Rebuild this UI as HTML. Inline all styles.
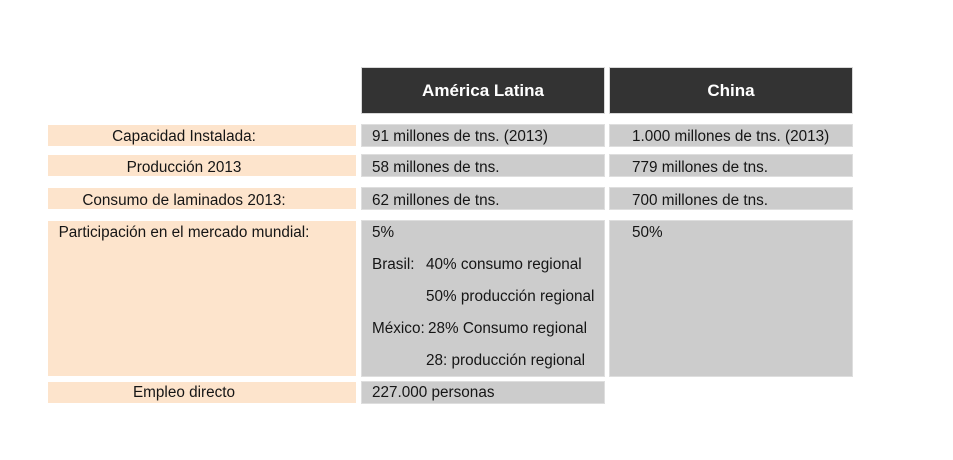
<!DOCTYPE html>
<html>
<head>
<meta charset="utf-8">
<style>
html,body{margin:0;padding:0;background:#fff;}
body{width:953px;height:460px;position:relative;overflow:hidden;font-family:"Liberation Sans",Arial,sans-serif;color:#151515;}
.b{position:absolute;}
.pe{background:#fde4cc;}
.gr{background:#cccccc;box-shadow:0 0 0 1px #dedede;}
.hd{background:#333333;box-shadow:0 0 0 1px #d8d8d8;color:#fff;font-weight:bold;font-size:17px;text-align:center;line-height:45px;}
.t{position:absolute;font-size:15.3px;line-height:20px;white-space:nowrap;}
.c{transform:translateX(-50%);}
</style>
</head>
<body>
<div class="b hd" style="left:362px;top:68px;width:242px;height:45px;">América Latina</div>
<div class="b hd" style="left:610px;top:68px;width:242px;height:45px;">China</div>

<div class="b pe" style="left:48px;top:125px;width:308px;height:21px;"></div>
<div class="b pe" style="left:48px;top:155px;width:308px;height:21px;"></div>
<div class="b pe" style="left:48px;top:188px;width:308px;height:21px;"></div>
<div class="b pe" style="left:48px;top:221px;width:308px;height:155px;"></div>
<div class="b pe" style="left:48px;top:382px;width:308px;height:21px;"></div>

<div class="b gr" style="left:362px;top:125px;width:242px;height:21px;"></div>
<div class="b gr" style="left:362px;top:155px;width:242px;height:21px;"></div>
<div class="b gr" style="left:362px;top:188px;width:242px;height:21px;"></div>
<div class="b gr" style="left:362px;top:221px;width:242px;height:155px;"></div>
<div class="b gr" style="left:362px;top:382px;width:242px;height:21px;"></div>

<div class="b gr" style="left:610px;top:125px;width:242px;height:21px;"></div>
<div class="b gr" style="left:610px;top:155px;width:242px;height:21px;"></div>
<div class="b gr" style="left:610px;top:188px;width:242px;height:21px;"></div>
<div class="b gr" style="left:610px;top:221px;width:242px;height:155px;"></div>

<div class="t c" style="left:184px;top:127px;">Capacidad Instalada:</div>
<div class="t c" style="left:184px;top:158px;">Producción 2013</div>
<div class="t c" style="left:184px;top:191px;">Consumo de laminados 2013:</div>
<div class="t c" style="left:184px;top:223px;">Participación en el mercado mundial:</div>
<div class="t c" style="left:184px;top:383px;">Empleo directo</div>

<div class="t" style="left:372px;top:127px;">91 millones de tns. (2013)</div>
<div class="t" style="left:372px;top:158px;">58 millones de tns.</div>
<div class="t" style="left:372px;top:191px;">62 millones de tns.</div>
<div class="t" style="left:372px;top:223px;">5%</div>
<div class="t" style="left:372px;top:255px;">Brasil:</div>
<div class="t" style="left:426px;top:255px;">40% consumo regional</div>
<div class="t" style="left:426px;top:287px;">50% producción regional</div>
<div class="t" style="left:372px;top:319px;">México:</div>
<div class="t" style="left:428px;top:319px;">28% Consumo regional</div>
<div class="t" style="left:426px;top:351px;">28: producción regional</div>
<div class="t" style="left:372px;top:383px;">227.000 personas</div>

<div class="t" style="left:632px;top:127px;">1.000 millones de tns. (2013)</div>
<div class="t" style="left:632px;top:158px;">779 millones de tns.</div>
<div class="t" style="left:632px;top:191px;">700 millones de tns.</div>
<div class="t" style="left:632px;top:223px;">50%</div>
</body>
</html>
